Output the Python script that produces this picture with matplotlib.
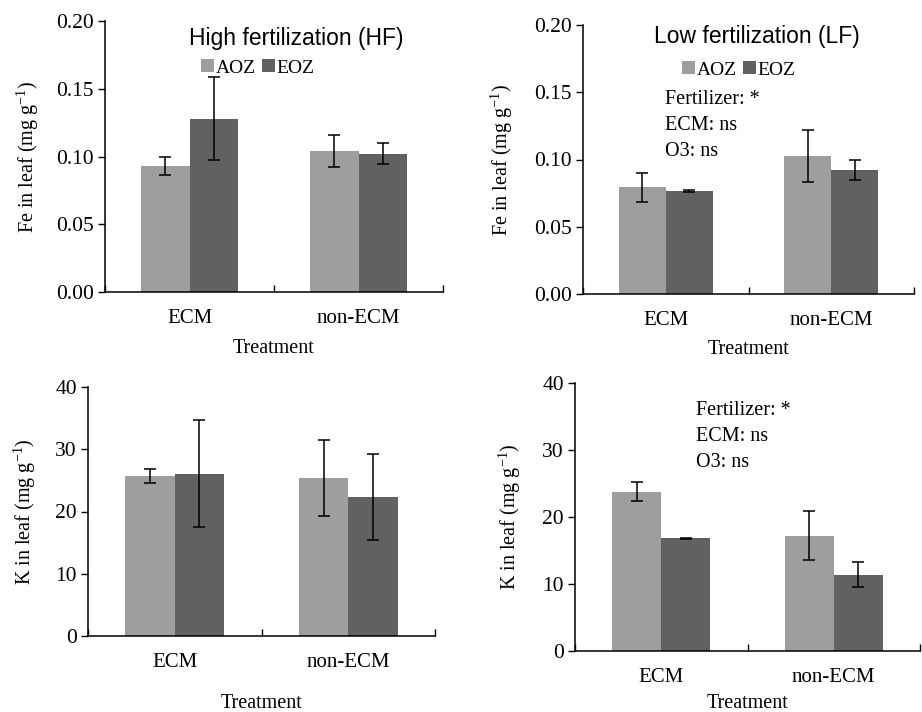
import matplotlib.pyplot as plt
import numpy as np
from matplotlib.ticker import FormatStrFormatter

categories = ['ECM', 'non-ECM']
series = ['AOZ', 'EOZ']
colors = ['#9e9e9e', '#616161']

fe_hf = [[0.093, 0.104], [0.128, 0.102]]
fe_hf_err = [[0.0064, 0.012], [0.0306, 0.0078]]
fe_lf = [[0.0795, 0.1025], [0.0767, 0.0921]]
fe_lf_err = [[0.0108, 0.0192], [0.0008, 0.0075]]
k_hf = [[25.7, 25.4], [26.1, 22.4]]
k_hf_err = [[1.1, 6.1], [8.55, 6.9]]
k_lf = [[23.8, 17.2], [16.8, 11.4]]
k_lf_err = [[1.45, 3.65], [0.1, 1.85]]

plt.rcParams['font.family'] = ['Liberation Serif', 'DejaVu Serif']

fig = plt.figure(figsize=(9.22, 7.12), dpi=100)
W, H = 922, 712

def make_ax(l, r, t, b):
    return fig.add_axes([l / W, 1 - b / H, (r - l) / W, (b - t) / H])

def draw(ax, vals, errs, ymax, step, fmt, ylabel):
    x = np.arange(len(categories))
    w = 0.285
    for i in range(len(series)):
        ax.bar(x + (i - 0.5) * w, vals[i], w, color=colors[i], label=series[i],
               yerr=errs[i], error_kw=dict(ecolor='black', elinewidth=1.1,
                                           capsize=4.5, capthick=1.1))
    ax.set_xlim(-0.5, 1.5)
    ax.set_ylim(0, ymax)
    ax.set_yticks(np.arange(0, ymax + step / 2, step))
    ax.yaxis.set_major_formatter(FormatStrFormatter(fmt))
    ax.set_xticks([-0.5, 0.5, 1.5])
    ax.set_xticklabels([])
    ax.set_xticks(x, minor=True)
    ax.set_xticklabels(categories, minor=True)
    ax.tick_params(axis='x', which='major', direction='in', length=5, width=1)
    ax.tick_params(axis='x', which='minor', length=0, pad=12, labelsize=15)
    ax.tick_params(axis='y', direction='out', length=5, width=1, labelsize=15.5, pad=3)
    for s in ['top', 'right']:
        ax.spines[s].set_visible(False)
    for s in ['left', 'bottom']:
        ax.spines[s].set_linewidth(1.1)
    ax.set_ylabel(ylabel, fontsize=14.5)
    ax.set_xlabel('Treatment', fontsize=14.5)

ylab_fe = 'Fe in leaf (mg g$^{\\mathregular{-1}}$)'
ylab_k = 'K in leaf (mg g$^{\\mathregular{-1}}$)'
notes = 'Fertilizer: *\nECM: ns\nO3: ns'

ax1 = make_ax(105, 443, 21, 292)
draw(ax1, fe_hf, fe_hf_err, 0.20, 0.05, '%.2f', ylab_fe)
ax1.text((296 - 105) / 338, (292 - 38) / 271, 'High fertilization (HF)',
         transform=ax1.transAxes, fontfamily='Liberation Sans', fontsize=16.5,
         ha='center', va='center')
ax1.legend(ncol=2, frameon=False, fontsize=14, handlelength=0.65, handleheight=0.65,
           handletextpad=0.1, columnspacing=0.3, loc='center',
           bbox_to_anchor=((258 - 105) / 338, (292 - 68) / 271))
ax1.yaxis.set_label_coords(-0.19, 0.5)
ax1.xaxis.set_label_coords(0.5, -0.173)

ax2 = make_ax(583, 914, 25, 294)
draw(ax2, fe_lf, fe_lf_err, 0.20, 0.05, '%.2f', ylab_fe)
ax2.text((757 - 583) / 331, (294 - 37) / 269, 'Low fertilization (LF)',
         transform=ax2.transAxes, fontfamily='Liberation Sans', fontsize=16.5,
         ha='center', va='center')
ax2.legend(ncol=2, frameon=False, fontsize=14, handlelength=0.65, handleheight=0.65,
           handletextpad=0.1, columnspacing=0.3, loc='center',
           bbox_to_anchor=((739 - 583) / 331, (294 - 70) / 269))
ax2.text((665 - 583) / 331, (294 - 90) / 269, notes,
         transform=ax2.transAxes, fontsize=14.5, va='top', ha='left', linespacing=1.5)
ax2.yaxis.set_label_coords(-0.205, 0.5)
ax2.xaxis.set_label_coords(0.5, -0.171)

ax3 = make_ax(88, 435, 387, 636)
draw(ax3, k_hf, k_hf_err, 40, 10, '%d', ylab_k)
ax3.yaxis.set_label_coords(-0.145, 0.5)
ax3.xaxis.set_label_coords(0.5, -0.233)

ax4 = make_ax(575, 920, 383, 651)
draw(ax4, k_lf, k_lf_err, 40, 10, '%d', ylab_k)
ax4.text((696 - 575) / 345, (651 - 401) / 268, notes,
         transform=ax4.transAxes, fontsize=14.5, va='top', ha='left', linespacing=1.5)
ax4.yaxis.set_label_coords(-0.152, 0.5)
ax4.xaxis.set_label_coords(0.5, -0.16)

fig.savefig('out.png', dpi=100)
